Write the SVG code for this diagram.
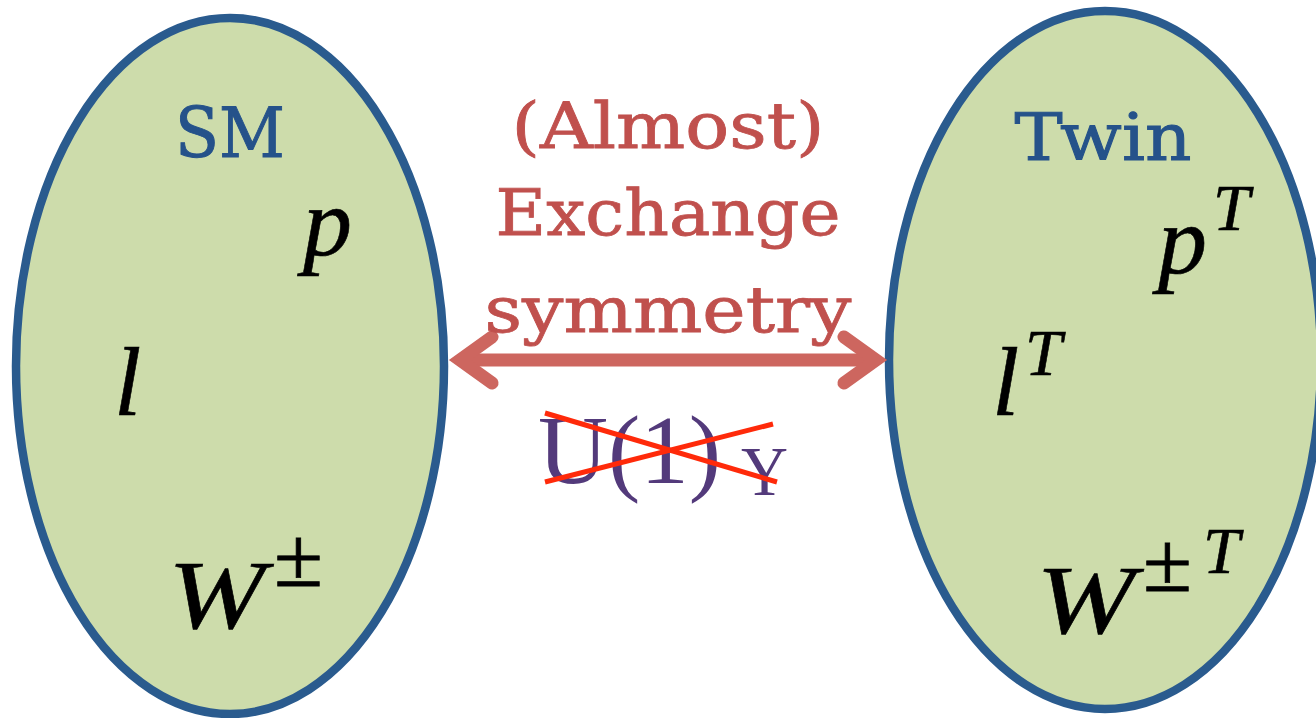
<svg xmlns="http://www.w3.org/2000/svg" width="1316" height="718" viewBox="0 0 1316 718">
<style>
.blob{fill:#cddcab;stroke:#2a5b8e;stroke-width:8.5}
.title{font-family:"DejaVu Serif",serif;fill:#25528a;text-anchor:middle;stroke:#25528a;stroke-width:1}
.mi{font-family:"Liberation Serif","Times New Roman",serif;font-style:italic;fill:#000;stroke:#000;stroke-width:0.6}
.rm{font-family:"Liberation Serif","Times New Roman",serif;fill:#000;stroke:#000;stroke-width:0.8}
.sym{font-family:"DejaVu Serif",serif;fill:#c0504d;stroke:#c0504d;stroke-width:0.8;text-anchor:middle;font-size:63px}
.arr{fill:none;stroke:#cd665f;stroke-width:13;stroke-linecap:round;stroke-linejoin:miter;stroke-miterlimit:10}
.u1{font-family:"Liberation Serif","Times New Roman",serif;fill:#533a7b}
.cross{stroke:#ff2a0a;stroke-width:5;stroke-linecap:butt}
</style>
<rect width="1316" height="718" fill="#fff"/>
<g id="node-sm">
<ellipse class="blob" cx="230" cy="366" rx="214" ry="348"/>
<text class="title" x="230" y="157" font-size="70" textLength="110" lengthAdjust="spacingAndGlyphs">SM</text>
<text class="mi" x="303" y="255" font-size="98">p</text>
<text class="mi" x="114" y="415" font-size="98">l</text>
<text class="mi" x="168" y="628" font-size="98" textLength="97" lengthAdjust="spacingAndGlyphs">W</text>
<text class="rm" x="274" y="586" font-size="84" textLength="49" lengthAdjust="spacingAndGlyphs">±</text>
</g>
<g id="node-twin">
<ellipse class="blob" cx="1105" cy="360" rx="216" ry="349"/>
<text class="title" x="1103" y="160" font-size="66" textLength="177" lengthAdjust="spacingAndGlyphs">Twin</text>
<text class="mi" x="1158" y="273" font-size="98">p</text>
<text class="mi" x="1213" y="230" font-size="66">T</text>
<text class="mi" x="992" y="415" font-size="98">l</text>
<text class="mi" x="1025" y="375" font-size="66">T</text>
<text class="mi" x="1036" y="633" font-size="98" textLength="99" lengthAdjust="spacingAndGlyphs">W</text>
<text class="rm" x="1143" y="591" font-size="84" textLength="49" lengthAdjust="spacingAndGlyphs">±</text>
<text class="mi" x="1203" y="573" font-size="66">T</text>
</g>
<g id="connectors">
<line class="arr" x1="462" y1="360" x2="874" y2="360"/>
<polyline class="arr" points="492,337 460,360 492,383"/>
<polyline class="arr" points="844,337 876,360 844,383"/>
</g>
<g id="label-exchange">
<text class="sym" x="668" y="148" textLength="313" lengthAdjust="spacingAndGlyphs">(Almost)</text>
<text class="sym" x="668" y="235" textLength="345" lengthAdjust="spacingAndGlyphs">Exchange</text>
<text class="sym" x="668" y="332" textLength="367" lengthAdjust="spacingAndGlyphs">symmetry</text>
</g>
<g id="label-u1">
<text class="u1" x="538" y="483" font-size="98" textLength="183" lengthAdjust="spacingAndGlyphs">U(1)</text>
<text class="u1" x="741" y="495" font-size="70" textLength="47" lengthAdjust="spacingAndGlyphs">Y</text>
<line class="cross" x1="545" y1="413" x2="777" y2="482"/>
<line class="cross" x1="545" y1="482" x2="773" y2="424"/>
</g>
</svg>
